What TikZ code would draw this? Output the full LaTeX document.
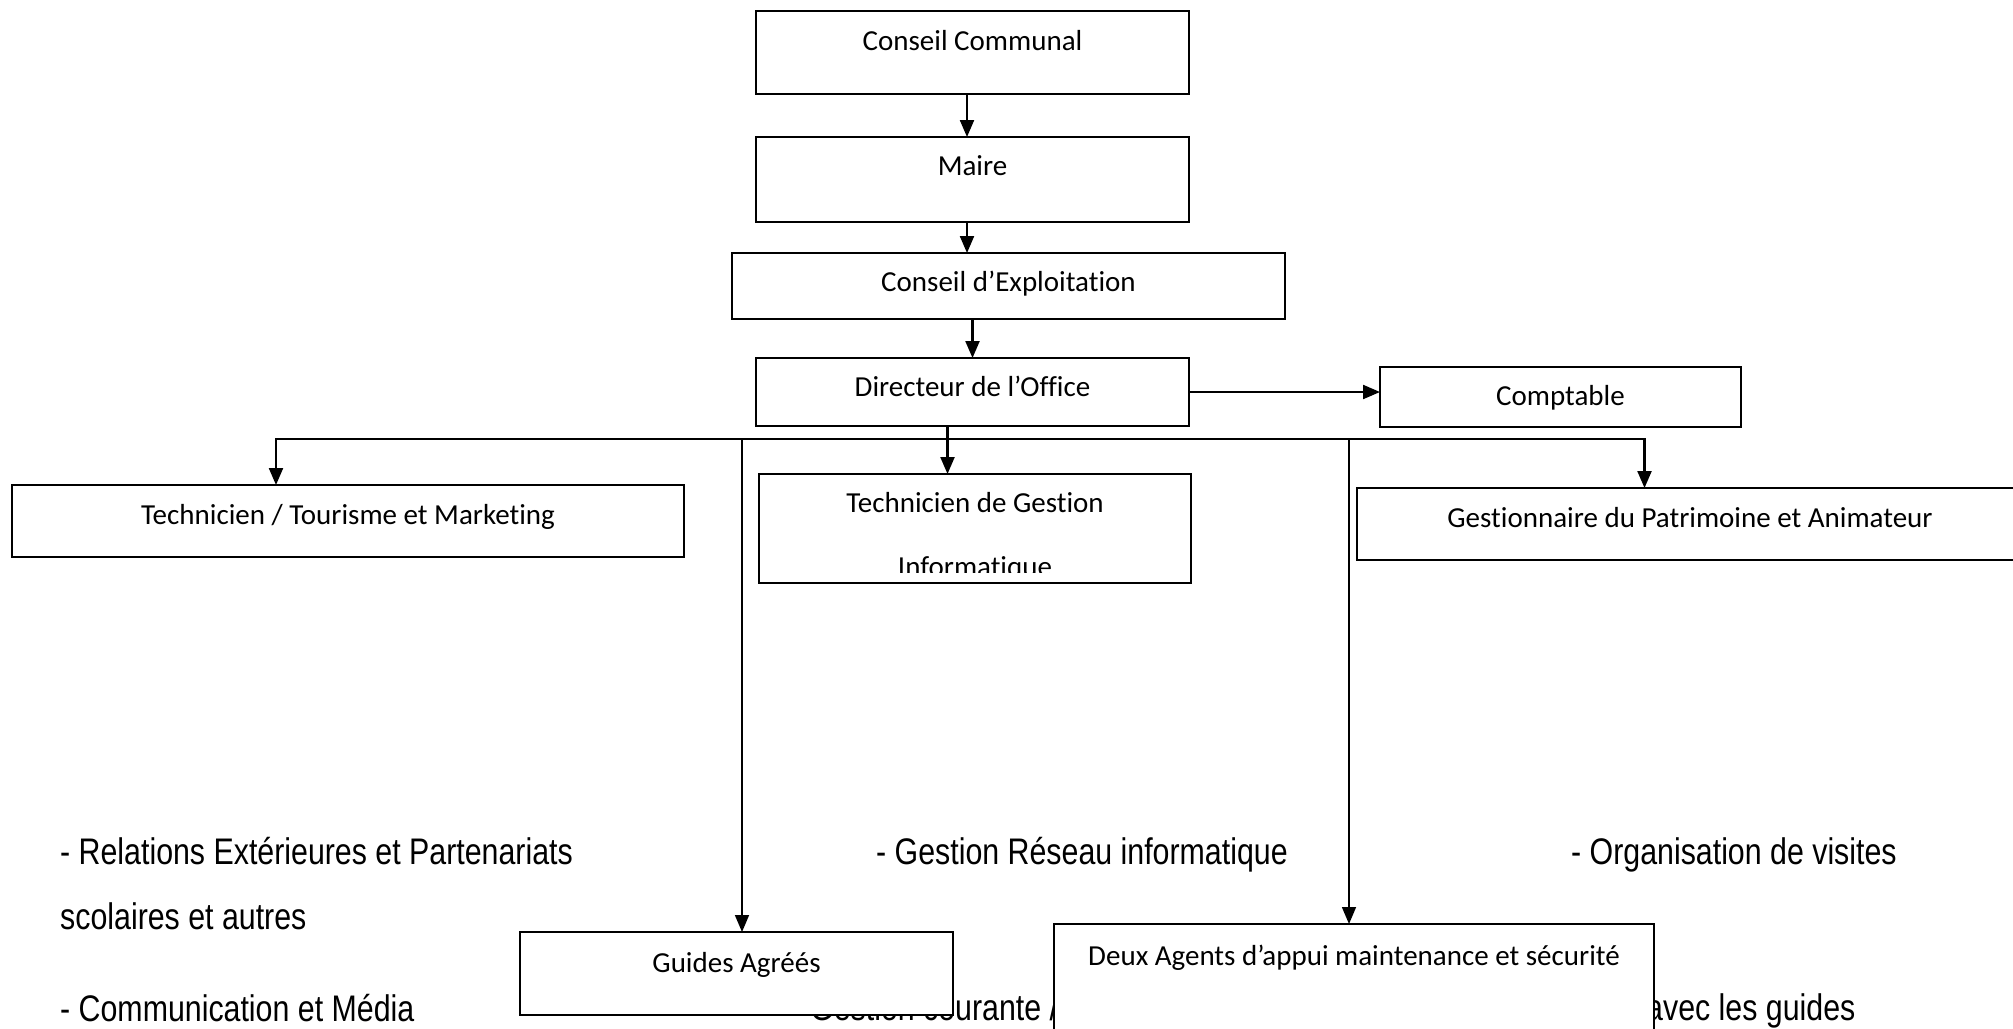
\documentclass[tikz,border=0pt]{standalone}
\usepackage{fontspec}
\setmainfont{Carlito}[Ligatures=NoCommon]
\newfontfamily\narrowfont[FakeStretch=0.82]{Liberation Sans}
\usetikzlibrary{arrows.meta}
\begin{document}
\begin{tikzpicture}[x=1pt,y=-1pt,
  box/.style={draw, line width=2.2pt, fill=white, inner sep=0pt, outer sep=0pt,
    anchor=north west, font=\fontsize{29}{35}\selectfont},
  boxtext/.style={inner sep=0pt, anchor=base, font=\fontsize{29}{35}\selectfont},
  note/.style={anchor=base west, inner sep=0pt, font=\narrowfont\fontsize{37}{44}\selectfont},
  tip/.style={-{Triangle[length=17pt,width=14pt]}},
  arr/.style={line width=2.2pt, tip},
  thinarr/.style={line width=1.6pt, tip}]
\useasboundingbox (0,0) rectangle (2013,1028);
\clip (0,0) rectangle (2013,1028);

% free text lines
\node[note] (n1) at (60,864) {- Relations Extérieures et Partenariats};
\node[note] (n2) at (60,929) {scolaires et autres};
\node[note] (n3) at (60,1021) {- Communication et Média};
\node[note] (n4) at (876,864) {- Gestion Réseau informatique};
\node[note] (n5) at (1571,864) {- Organisation de visites};
\node[note] (n6) at (810,1020) {Gestion courante /};
\node[note] (n7) at (1646,1020) {avec les guides};

% boxes
\node[box, minimum width=433pt, text height=39pt, text depth=44pt] (cc) at (756,11) {Conseil Communal};
\node[box, minimum width=433pt, text height=38pt, text depth=47pt] (maire) at (756,137) {Maire};
\node[box, minimum width=553pt, text height=38pt, text depth=28pt] (cde) at (732,253) {Conseil d’Exploitation};
\node[box, minimum width=433pt, text height=38pt, text depth=30pt] (dir) at (756,358) {Directeur de l’Office};
\node[box, minimum width=361pt, text height=38pt, text depth=22pt] (comp) at (1380,367) {Comptable};
\node[box, minimum width=672pt, text height=39pt, text depth=33pt] (tt) at (12,485) {Technicien / Tourisme et Marketing};
\node[box, minimum width=432pt, minimum height=109pt] (tg) at (759,474) {};
\begin{scope}
  \clip (759,474) rectangle (1191,572);
  \node[boxtext] (tg1) at (975,512) {Technicien de Gestion};
  \node[boxtext] (tg2) at (975,576) {Informatique};
\end{scope}
\node[box, minimum width=666pt, text height=39pt, text depth=33pt] (gp) at (1357,488) {Gestionnaire du Patrimoine et Animateur};
\node[box, minimum width=433pt, text height=40pt, text depth=43pt] (guides) at (520,932) {Guides Agréés};
\node[box, minimum width=600pt, text height=41pt, text depth=99pt] (agents) at (1054,924) {Deux Agents d’appui maintenance et sécurité};

% connectors
\draw[arr] ([xshift=-5.5pt]cc.south) -- ([xshift=-5.5pt]maire.north);
\draw[arr] ([xshift=-5.5pt]maire.south) -- ([xshift=-5.5pt]maire.south |- cde.north);
\draw[arr] (cde.south -| dir.north) -- (dir.north);
\draw[arr] (dir.east) -- (dir.east -| comp.west);
\draw[arr] ([xshift=-25pt]dir.south) -- ([xshift=-25pt]dir.south |- tg.north);
\coordinate (busL) at (276,439);
\coordinate (busR) at (1644.5,439);
\coordinate (busG) at (742,439);
\coordinate (busA) at (1349,439);
\draw[line width=2.2pt, {Triangle[length=17pt,width=14pt]}-{Triangle[length=17pt,width=14pt]}]
  (busL |- tt.north) -- (busL) -- (busR) -- (busR |- gp.north);
\draw[thinarr] (busG) -- (busG |- guides.north);
\draw[thinarr] (busA) -- (busA |- agents.north);
\end{tikzpicture}
\end{document}
